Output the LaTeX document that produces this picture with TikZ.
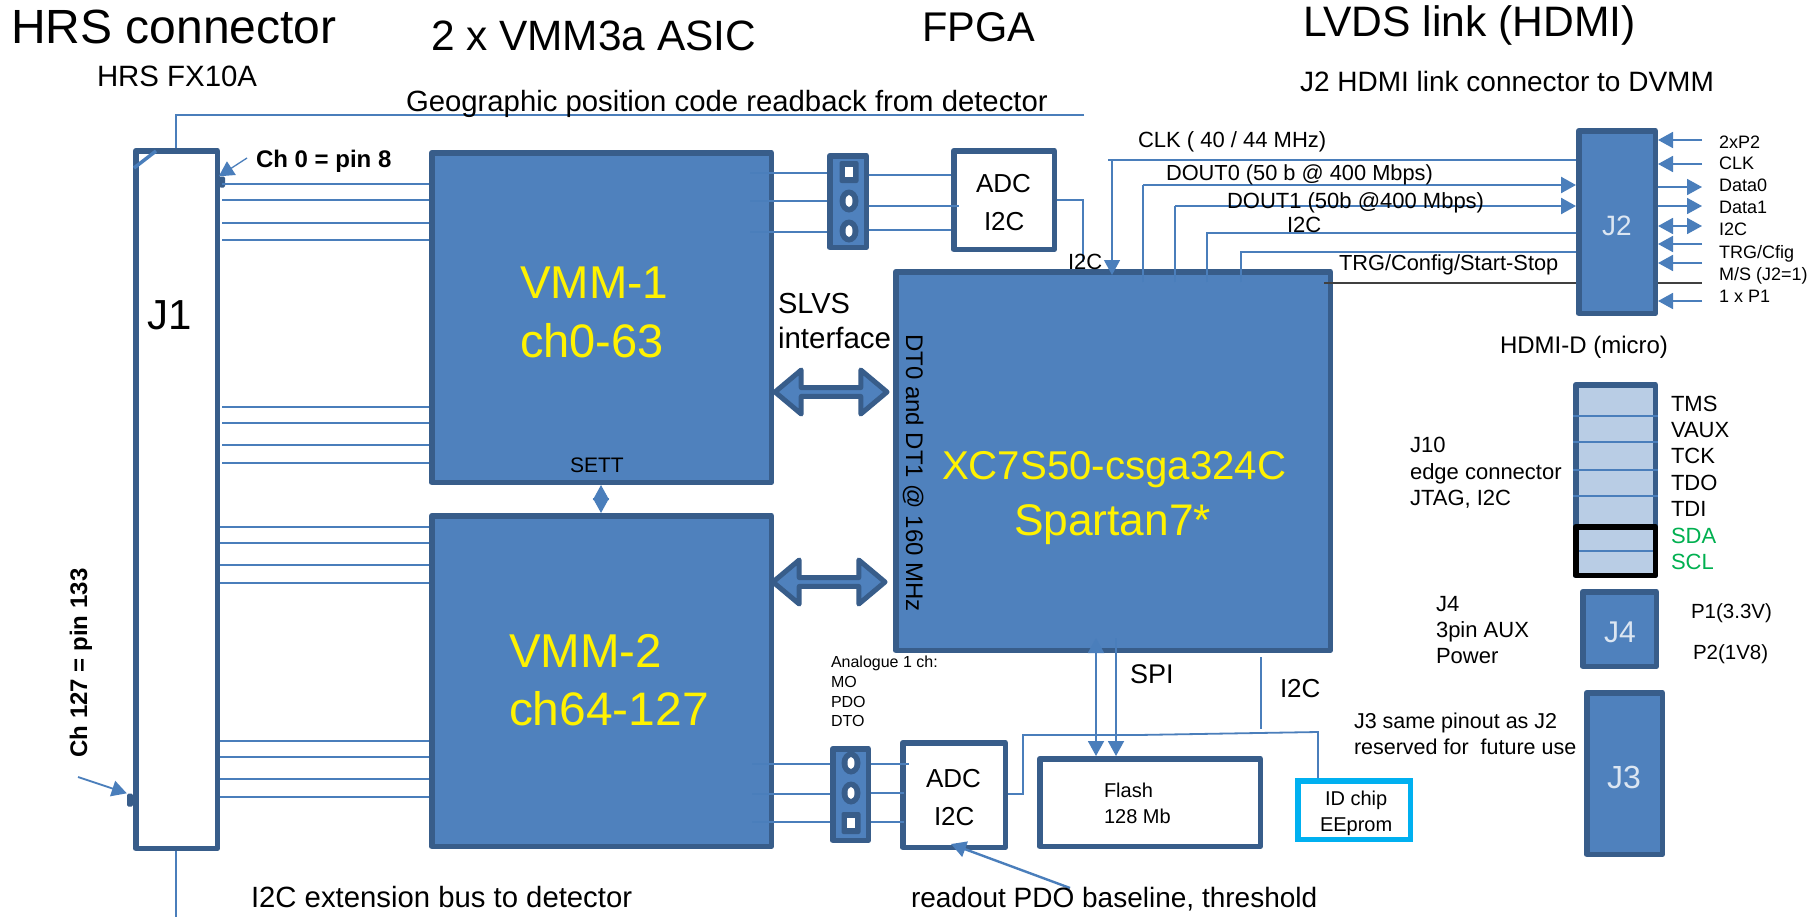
\documentclass[tikz,border=0pt]{standalone}
\usepackage{fontspec}
\setmainfont{Liberation Sans}
\usetikzlibrary{arrows.meta,shapes.arrows,shapes.geometric}
\definecolor{bfill}{HTML}{4F81BD}
\definecolor{bline}{HTML}{385D8A}
\definecolor{wire}{HTML}{4A7EBB}
\definecolor{pale}{HTML}{B9CDE5}
\definecolor{cyanb}{HTML}{00B0F0}
\definecolor{jwhite}{HTML}{DCE6F2}
\definecolor{sgreen}{HTML}{00B050}
\newcounter{lblc}
\newcommand\lbl[5][black]{\stepcounter{lblc}\node[lbltext,text=#1] (t\thelblc) at (#2,#3) {\fontsize{#4pt}{#4pt}\selectfont #5};}
\newcommand\bx[6]{\pgfmathsetmacro\bxw{#4-#2-5.5}\pgfmathsetmacro\bxh{#5-#3-5.5}%
  \node[#6,minimum width=\bxw pt,minimum height=\bxh pt] (#1) at ({(#2+#4)/2},{(#3+#5)/2}) {};}
\tikzset{
  lbltext/.style={anchor=base west,inner sep=0pt,outer sep=0pt},
  blk/.style={draw=bline,fill=bfill,line width=5.5pt,inner sep=0pt,line join=round},
  wbx/.style={draw=bline,fill=white,line width=5.5pt,inner sep=0pt,line join=round},
  idbx/.style={draw=cyanb,fill=white,line width=5.5pt,inner sep=0pt},
  palebx/.style={draw=bline,fill=pale,line width=5.5pt,inner sep=0pt,line join=round},
  blackbx/.style={draw=black,line width=5.5pt,inner sep=0pt,line join=round},
  wire/.style={draw=wire,line width=1.8pt},
  fine/.style={draw=wire,line width=1.3pt},
  head/.style={-{Triangle[length=15pt,width=16pt,color=wire]}},
  headb/.style={{Triangle[length=15pt,width=16pt,color=wire]}-{Triangle[length=15pt,width=16pt,color=wire]}},
  bus/.style={double arrow,draw=bline,fill=bfill,line width=5pt,inner sep=0pt,line join=round,
    double arrow head extend=10pt,double arrow head indent=0pt,double arrow tip angle=80,
    minimum height=112pt,minimum width=44pt},
  sockhole/.style={ellipse,fill=white,inner sep=0pt,minimum width=7pt,minimum height=12pt},
  sockdisc/.style={ellipse,fill=bline,inner sep=0pt,minimum width=19pt,minimum height=23pt},
  sockpad/.style={rectangle,rounded corners=2pt,fill=bline,inner sep=0pt,minimum width=19pt,minimum height=22pt},
  sockwin/.style={rectangle,fill=white,inner sep=0pt,minimum width=8pt,minimum height=10pt},
}
\begin{document}
\begin{tikzpicture}[x=1pt,y=-1pt]
\useasboundingbox (0,0) rectangle (1820,918);
\fill[white] (0,0) rectangle (1820,918);
% boxes
\bx{j1}{133}{148}{220}{851}{wbx}
\bx{vmm1}{429}{150}{774}{485}{blk}
\bx{vmm2}{429}{513}{774}{849}{blk}
\bx{fpga}{893}{269}{1333}{653}{blk}
\coordinate (blka) at (1324,283);
\coordinate (blkb) at (1702,283);
\draw[draw=black!75,line width=1.8pt] (blka) -- (blkb);
\bx{j2}{1576}{128}{1658}{316}{blk}
\bx{s1}{827}{153}{869}{250}{blk}
\bx{s2}{830}{746}{871}{843}{blk}
\bx{j10}{1573}{382}{1658}{578}{palebx}
\bx{j4}{1580}{589}{1659}{669}{blk}
\bx{j3}{1584}{690}{1665}{857}{blk}
\bx{flash}{1037}{756}{1263}{849}{wbx}
\bx{idc}{1295}{778}{1413}{842}{idbx}
% J1 tabs
\node[rectangle,rounded corners=1.5pt,fill=bline,minimum width=6pt,minimum height=11pt,inner sep=0pt] (tab0) at (222,182) {};
\node[rectangle,rounded corners=1.5pt,fill=bline,minimum width=6pt,minimum height=13pt,inner sep=0pt] (tab127) at (130,800) {};
% wires first, so ADC boxes sit over them
\coordinate (ctop) at (176,115);
\coordinate (ctopr) at (1084,115);
\draw[fine] (ctopr) -- (ctop) -- (j1.north -| ctop);
\coordinate (nota) at (134,168); \coordinate (notb) at (156,151);
\draw[wire,line width=3.5pt] (nota) -- (notb);
\coordinate (cbot) at (176,917);
\draw[fine] (j1.south -| cbot) -- (cbot);
\foreach \y in {184,200,223,240,407,423,445,463} {\draw[wire] (222,\y) -- (vmm1.west |- 0,\y);}
\foreach \y in {527,543,565,583,741,757,779,797} {\draw[wire] (220,\y) -- (vmm2.west |- 0,\y);}
\coordinate (pin0) at (247,158);
\draw[fine,head] (pin0) -- (tab0.north west);
\coordinate (pin127) at (78,777);
\draw[wire,head] (pin127) -- (tab127.north west);
% VMM to sockets
\coordinate (va) at (750,0);
\foreach \y in {173,201,232} {\draw[wire] (va |- 0,\y) -- (s1.west |- 0,\y);}
\coordinate (vb) at (752,0);
\foreach \y in {764,794,822} {\draw[wire] (vb |- 0,\y) -- (s2.west |- 0,\y);}
% ADC boxes
\bx{adc1}{951}{148}{1057}{252}{wbx}
\bx{adc2}{900}{740}{1008}{850}{wbx}
\draw[wire] (s1.east |- 0,175) -- (adc1.west |- 0,175);
\draw[wire] (s1.east |- 0,206) -- (959,206);
\draw[wire] (s1.east |- 0,230) -- (adc1.west |- 0,230);
\draw[wire] (s2.east |- 0,764) -- (909,764);
\draw[wire] (s2.east |- 0,793) -- (904,793);
\draw[wire] (s2.east |- 0,822) -- (904,822);
% socket pads
\node[sockpad] (p1a) at (849,172) {}; \node[sockwin] (w1a) at (p1a) {};
\node[sockdisc] (p1b) at (849,201) {}; \node[sockhole] (w1b) at (p1b) {};
\node[sockdisc] (p1c) at (849,231) {}; \node[sockhole] (w1c) at (p1c) {};
\node[sockdisc] (p2a) at (851,763) {}; \node[sockhole] (w2a) at (p2a) {};
\node[sockdisc] (p2b) at (851,793) {}; \node[sockhole] (w2b) at (p2b) {};
\node[sockpad] (p2c) at (851,823) {}; \node[sockwin] (w2c) at (p2c) {};
% ADC1 to FPGA
\coordinate (ai) at (1083,200);
\coordinate (aie) at (1083,262);
\draw[wire] (adc1.east |- ai) -- (ai) -- (aie);
% J2 side
\coordinate (cclk) at (1112,160);
\draw[wire] (1108,160) -- (j2.west |- cclk);
\coordinate (cclke) at (1112,275);
\draw[fine,head] (cclk) -- (cclke);
\coordinate (d0) at (1143,185); \coordinate (d0e) at (1143,282);
\draw[fine] (d0e) -- (d0);
\draw[wire,line width=2.4pt,head] (d0) -- (j2.west |- d0);
\coordinate (d1) at (1175,206); \coordinate (d1e) at (1175,282);
\draw[fine] (d1e) -- (d1);
\draw[wire,line width=2.4pt,head] (d1) -- (j2.west |- d1);
\coordinate (ic) at (1207,233); \coordinate (ice) at (1207,282);
\draw[wire] (ice) -- (ic) -- (j2.west |- ic);
\coordinate (tr) at (1241,252); \coordinate (tre) at (1241,282);
\draw[wire] (tre) -- (tr) -- (j2.west |- tr);
% J2 pins
\coordinate (pr) at (1702,0);
\foreach \y in {140,164,244,263,301} {\draw[wire,head] (pr |- 0,\y) -- (j2.east |- 0,\y);}
\foreach \y in {187,206} {\draw[wire,head] (j2.east |- 0,\y) -- (pr |- 0,\y);}
\draw[wire,headb] (j2.east |- 0,226) -- (pr |- 0,226);
% big buses
\node[bus] (bus1) at (831,392) {};
\node[bus] (bus2) at (829,582) {};
% SETT
\coordinate (sx) at (601,0);
\draw[wire,headb] (sx |- vmm1.south) -- (sx |- vmm2.north);
% SPI
\coordinate (spa) at (1096,0); \coordinate (spb) at (1116,0);
\draw[wire,headb] (spa |- 0,638) -- (spa |- flash.north);
\draw[wire,head] (spb |- 0,638) -- (spb |- flash.north);
% I2C drop
\coordinate (ida) at (1261,657); \coordinate (idb) at (1261,729);
\draw[fine] (ida) -- (idb);
% ADC2 bus to ID chip
\coordinate (la) at (1023,794); \coordinate (lb) at (1023,735); \coordinate (lc) at (1138,735); \coordinate (ld) at (1318,732);
\draw[wire] (adc2.east |- la) -- (la) -- (lb) -- (lc) -- (ld) -- (ld |- idc.north);
% readout arrow
\coordinate (ro) at (1070,888);
\draw[wire,line width=2.4pt,head] (ro) -- (951,844);
% J10 separators
\coordinate (jl) at (1573,0); \coordinate (jr) at (1658,0);
\foreach \y in {416,442,470,496,551} {\draw[wire,line width=2.4pt] (jl |- 0,\y) -- (jr |- 0,\y);}
\bx{j10b}{1573}{524}{1658}{578}{blackbx}
% texts
\lbl{11}{43}{48}{HRS connector}
\lbl{431}{50}{42.4}{2 x VMM3a ASIC}
\lbl{922}{41}{41.5}{FPGA}
\lbl{1303}{36}{42.6}{LVDS link (HDMI)}
\lbl{97}{86}{29.4}{HRS FX10A}
\lbl{406}{111}{29.3}{Geographic position code readback from detector}
\lbl{1300}{91}{28}{J2 HDMI link connector to DVMM}
\node[lbltext,font=\bfseries\fontsize{24pt}{24pt}\selectfont] (ch0) at (256,167) {Ch 0 = pin 8};
\node[lbltext,anchor=base,rotate=90,font=\bfseries\fontsize{24pt}{24pt}\selectfont] (ch127) at (87,663) {Ch 127 = pin 133};
\lbl{147}{329}{42}{J1}
\lbl[yellow]{520}{298}{46}{VMM-1}
\lbl[yellow]{520}{357}{47}{ch0-63}
\lbl[yellow]{509}{667}{47.5}{VMM-2}
\lbl[yellow]{509}{725}{47}{\scalebox{1.02}[1]{ch64-127}}
\lbl[yellow]{942}{479}{40.2}{XC7S50-csga324C}
\lbl[yellow]{1014}{535}{44.3}{Spartan7*}
\lbl{778}{313}{29}{SLVS}
\lbl{778}{348}{29.5}{interface}
\node[lbltext,anchor=base,rotate=-90,font=\fontsize{24pt}{24pt}\selectfont] (dt) at (906,473) {DT0 and DT1 @ 160 MHz};
\lbl{570}{472}{21}{SETT}
\lbl{1138}{147}{22}{CLK ( 40 / 44 MHz)}
\lbl{1166}{180}{21.8}{DOUT0 (50 b @ 400 Mbps)}
\lbl{1227}{208}{22}{DOUT1 (50b @400 Mbps)}
\lbl{1287}{232}{22}{I2C}
\lbl{1339}{270}{21.8}{TRG/Config/Start-Stop}
\lbl{1068}{269}{22}{I2C}
\lbl{976}{192}{26}{ADC}
\lbl{984}{230}{26}{I2C}
\lbl{926}{787}{26}{ADC}
\lbl{934}{825}{26}{I2C}
\lbl[jwhite]{1602}{235}{28}{J2}
\lbl[jwhite]{1604}{642}{30}{J4}
\lbl[jwhite]{1607}{788}{32}{J3}
\lbl{1719}{148}{18}{2xP2}
\lbl{1719}{169}{18}{CLK}
\lbl{1719}{191}{18}{Data0}
\lbl{1719}{213}{18}{Data1}
\lbl{1719}{235}{18}{I2C}
\lbl{1719}{258}{18}{TRG/Cfig}
\lbl{1719}{280}{18}{M/S (J2=1)}
\lbl{1719}{302}{18}{1 x P1}
\lbl{1500}{353}{24}{HDMI-D (micro)}
\lbl{1671}{411}{22}{TMS}
\lbl{1671}{437}{22}{VAUX}
\lbl{1671}{463}{22}{TCK}
\lbl{1671}{490}{22}{TDO}
\lbl{1671}{516}{22}{TDI}
\lbl[sgreen]{1671}{543}{22}{SDA}
\lbl[sgreen]{1671}{569}{22}{SCL}
\lbl{1410}{452}{22}{J10}
\lbl{1410}{479}{22}{edge connector}
\lbl{1410}{505}{22}{JTAG, I2C}
\lbl{1436}{611}{22}{J4}
\lbl{1436}{637}{22}{3pin AUX}
\lbl{1436}{663}{22}{Power}
\lbl{1691}{618}{20.5}{P1(3.3V)}
\lbl{1693}{659}{20.5}{P2(1V8)}
\lbl{1354}{728}{21.5}{J3 same pinout as J2}
\lbl{1354}{754}{21.5}{reserved for\ \ future use}
\lbl{1130}{683}{27}{SPI}
\lbl{1280}{697}{26}{I2C}
\lbl{1104}{797}{20}{Flash}
\lbl{1104}{823}{20}{128 Mb}
\lbl{1325}{805}{20}{ID chip}
\lbl{1320}{831}{20}{EEprom}
\lbl{831}{667}{16}{Analogue 1 ch:}
\lbl{831}{687}{16}{MO}
\lbl{831}{707}{16}{PDO}
\lbl{831}{726}{16}{DTO}
\lbl{911}{907}{28}{readout PDO baseline, threshold}
\lbl{251}{907}{29.3}{I2C extension bus to detector}
\end{tikzpicture}
\end{document}
